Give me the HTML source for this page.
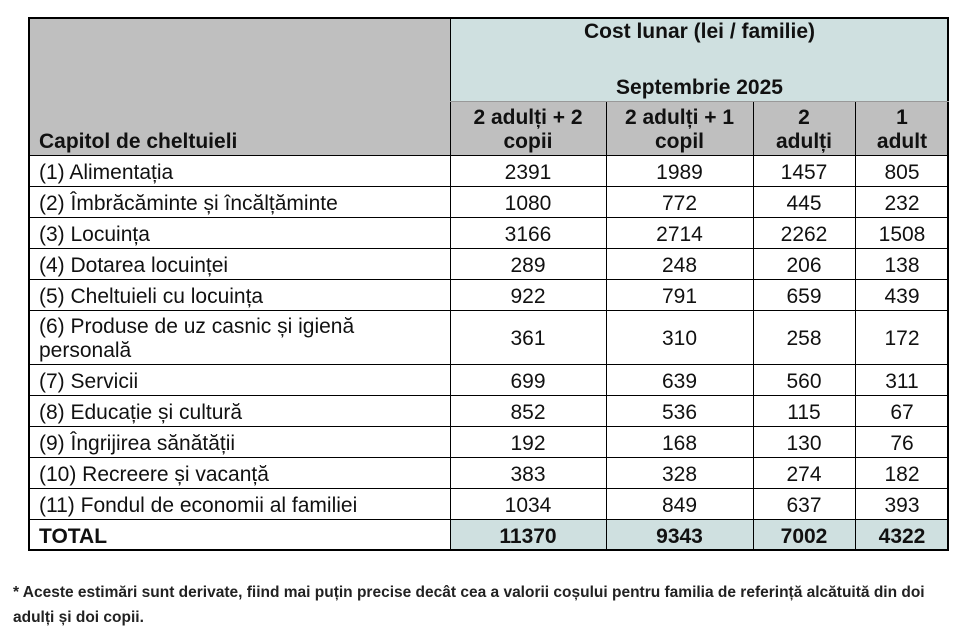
<!DOCTYPE html>
<html><head><meta charset="utf-8"><style>
body{margin:0;width:975px;height:637px;background:#fff;font-family:"Liberation Sans","DejaVu Sans",sans-serif;color:#111;position:relative;overflow:hidden}
.c{position:absolute;box-sizing:border-box;display:flex;align-items:center;justify-content:center;text-align:center;font-size:21px;line-height:24px;padding-top:4px}
.l{justify-content:flex-start;text-align:left;padding-left:11px}
.b{font-weight:bold}
.h{position:absolute;background:#000}
.fn{position:absolute;left:13px;font-size:15.5px;font-weight:bold;color:#222;white-space:nowrap}
</style></head><body>
<div class="c b" style="left:28px;top:17px;width:422px;height:138px;background:#bfbfbf;align-items:flex-end;justify-content:flex-start;padding-left:11px;padding-bottom:1px">Capitol de cheltuieli</div>
<div class="c b" style="left:450px;top:17px;width:499px;height:84px;background:#cfe0e0;flex-direction:column;justify-content:space-between;padding:3px 0 1px">
<div>Cost lunar (lei / familie)</div><div>Septembrie 2025</div></div>
<div class="c b" style="left:450px;top:101px;width:156px;height:54px;background:#bfbfbf">2 adulți + 2<br>copii</div>
<div class="c b" style="left:606px;top:101px;width:147px;height:54px;background:#bfbfbf">2 adulți + 1<br>copil</div>
<div class="c b" style="left:753px;top:101px;width:102px;height:54px;background:#bfbfbf">2<br>adulți</div>
<div class="c b" style="left:855px;top:101px;width:94px;height:54px;background:#bfbfbf">1<br>adult</div>
<div style="position:absolute;left:450px;top:519px;width:499px;height:31px;background:#cfe0e0"></div>
<div id="rows"></div>
<script>
var rows=[["(1) Alimentația",2391,1989,1457,805,31],["(2) Îmbrăcăminte și încălțăminte",1080,772,445,232,31],["(3) Locuința",3166,2714,2262,1508,31],["(4) Dotarea locuinței",289,248,206,138,31],["(5) Cheltuieli cu locuința",922,791,659,439,31],["(6) Produse de uz casnic și igienă personală",361,310,258,172,54],["(7) Servicii",699,639,560,311,31],["(8) Educație și cultură",852,536,115,67,31],["(9) Îngrijirea sănătății",192,168,130,76,31],["(10) Recreere și vacanță",383,328,274,182,31],["(11) Fondul de economii al familiei",1034,849,637,393,31],["TOTAL",11370,9343,7002,4322,31]];
var xs=[28,450,606,753,855,949],y=155,h="";
rows.forEach(function(r,i){var t=i==11;
h+='<div class="c l'+(t?' b':'')+'" style="left:28px;top:'+y+'px;width:422px;height:'+r[5]+'px;'+(i==5?'width:350px':'')+'">'+r[0]+'</div>';
for(var k=1;k<5;k++)h+='<div class="c'+(t?' b':'')+'" style="left:'+xs[k]+'px;top:'+y+'px;width:'+(xs[k+1]-xs[k])+'px;height:'+r[5]+'px">'+r[k]+'</div>';
h+='<div class="h" style="left:28px;top:'+y+'px;width:921px;height:1px"></div>';
y+=r[5];});
xs.forEach(function(x,k){h+='<div class="h" style="left:'+(x-(k==5?2:0))+'px;top:'+(k==0||k==5||k==1?17:101)+'px;width:'+(k==0||k==5?2:1)+'px;height:'+(k==0||k==5||k==1?533:449)+'px"></div>';});
h+='<div class="h" style="left:28px;top:17px;width:921px;height:2px"></div><div class="h" style="left:28px;top:549px;width:921px;height:2px"></div><div class="h" style="left:450px;top:101px;width:499px;height:1px;background:#999"></div>';
document.getElementById('rows').innerHTML=h;
</script>
<div class="fn" style="top:584px">* Aceste estimări sunt derivate, fiind mai puțin precise decât cea a valorii coșului pentru familia de referință alcătuită din doi</div>
<div class="fn" style="top:609px">adulți și doi copii.</div>
</body></html>
